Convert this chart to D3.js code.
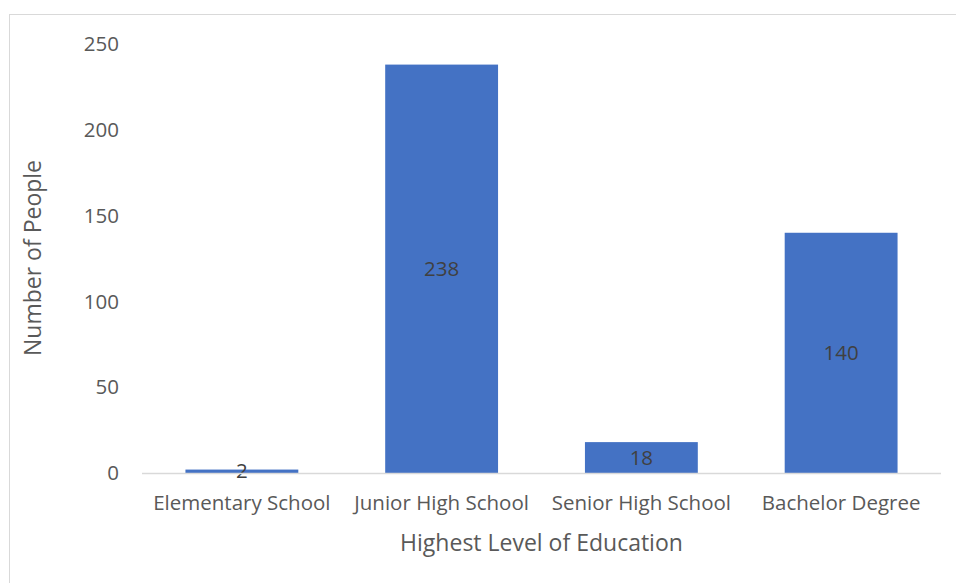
<!DOCTYPE html>
<html>
<head>
<meta charset="utf-8">
<script src="https://cdn.jsdelivr.net/npm/d3@7"></script>
<style>
  body { margin: 0; background: #fff; }
  text { font-family: "Open Sans", "Liberation Sans", sans-serif; }
</style>
</head>
<body>
<svg id="chart" width="956" height="583"></svg>
<script>

// data
var categories = ['Elementary School', 'Junior High School', 'Senior High School', 'Bachelor Degree'];
var counts = [2, 238, 18, 140];
var yTicks = [0, 50, 100, 150, 200, 250];

var svg = d3.select('#chart');
var plot = { left: 142, right: 941, top: 44, bottom: 473 };
const labelSize = 20.5;
const titleSize = 23;

// outer frame
svg.append('rect')
    .attr('x', 9.5).attr('y', 14.5)
    .attr('width', 960).attr('height', 600)
    .attr('fill', 'none')
    .attr('stroke', '#d9d9d9')
    .attr('stroke-width', 1);

var x = d3.scaleBand()
    .domain(categories)
    .range([plot.left, plot.right])
    .paddingInner(0.435)
    .paddingOuter(0.2175);

var y = d3.scaleLinear()
    .domain([0, 250])
    .range([plot.bottom, plot.top]);

var bars = svg.append('g');
bars.selectAll('rect')
    .data(counts)
    .enter().append('rect')
    .attr('x', function (d, i) { return x(categories[i]); })
    .attr('y', function (d) { return y(d); })
    .attr('width', x.bandwidth())
    .attr('height', function (d) { return y(0) - y(d); })
    .attr('fill', '#4472c4');

// baseline
svg.append('line')
    .attr('x1', plot.left).attr('x2', plot.right)
    .attr('y1', y(0) + 0.5).attr('y2', y(0) + 0.5)
    .attr('stroke', '#d9d9d9')
    .attr('stroke-width', 1.5);

// y tick labels
svg.append('g').selectAll('text')
    .data(yTicks)
    .enter().append('text')
    .attr('x', 119)
    .attr('y', function (d) { return y(d); })
    .attr('dy', '0.35em')
    .attr('text-anchor', 'end')
    .attr('fill', '#595959')
    .style('font-size', labelSize + 'px')
    .text(function (d) { return d; });

// category labels
svg.append('g').selectAll('text')
    .data(categories)
    .enter().append('text')
    .attr('x', function (d) { return x(d) + x.bandwidth() / 2; })
    .attr('y', 503)
    .attr('dy', '0.35em')
    .attr('text-anchor', 'middle')
    .attr('fill', '#595959')
    .style('font-size', labelSize + 'px')
    .text(function (d) { return d; });

// data labels, in the middle of each bar
bars.selectAll('text')
    .data(counts)
    .enter().append('text')
    .attr('x', function (d, i) { return x(categories[i]) + x.bandwidth() / 2; })
    .attr('y', function (d) { return d < 10 ? y(0) - 2 : (y(0) + y(d)) / 2; })
    .attr('dy', '0.35em')
    .attr('text-anchor', 'middle')
    .attr('fill', '#404040')
    .style('font-size', labelSize + 'px')
    .text(function (d) { return d; });

// axis titles
svg.append('text')
    .attr('x', (plot.left + plot.right) / 2)
    .attr('y', 543)
    .attr('dy', '0.35em')
    .attr('text-anchor', 'middle')
    .attr('fill', '#595959')
    .style('font-size', titleSize + 'px')
    .text('Highest Level of Education');

svg.append('text')
    .attr('transform', 'translate(33,258) rotate(-90)')
    .attr('dy', '0.35em')
    .attr('text-anchor', 'middle')
    .attr('fill', '#595959')
    .style('font-size', titleSize + 'px')
    .text('Number of People');

</script>
</body>
</html>
